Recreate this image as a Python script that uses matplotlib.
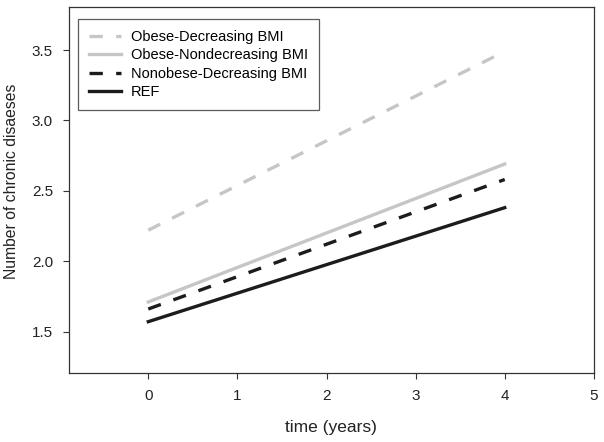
import matplotlib
matplotlib.use('Agg')
import matplotlib.pyplot as plt

plt.rcParams['font.family'] = ['Liberation Sans', 'DejaVu Sans']

# predicted number of chronic diseases at start and end of follow-up
time = [0, 4]
obese_decreasing = [2.22, 3.49]
obese_nondecreasing = [1.71, 2.69]
nonobese_decreasing = [1.66, 2.58]
ref = [1.57, 2.38]

labels = ['Obese-Decreasing BMI', 'Obese-Nondecreasing BMI',
          'Nonobese-Decreasing BMI', 'REF']
xticks = [0, 1, 2, 3, 4, 5]
yticks = [1.5, 2.0, 2.5, 3.0, 3.5]

grey = '#c6c6c6'
black = '#1c1c1c'

fig = plt.figure(figsize=(6.04, 4.42), dpi=100)
ax = fig.add_axes([0.1142, 0.156, 0.869, 0.828])

ax.plot(time, obese_decreasing, color=grey, lw=2.4, ls=(0, (4, 4)),
        dash_capstyle='butt', label=labels[0])
ax.plot(time, obese_nondecreasing, color=grey, lw=2.4, label=labels[1])
ax.plot(time, nonobese_decreasing, color=black, lw=2.4, ls=(0, (4, 4)),
        dash_capstyle='butt', label=labels[2])
ax.plot(time, ref, color=black, lw=2.4, label=labels[3])

ax.set_xlim(-0.89, 5)
ax.set_ylim(1.205, 3.805)
ax.set_xticks(xticks)
ax.set_xticklabels([str(t) for t in xticks])
ax.set_yticks(yticks)
ax.set_yticklabels([f'{t:.1f}' for t in yticks])

for s in ax.spines.values():
    s.set_color('#333333')
    s.set_linewidth(0.9)
ax.tick_params(direction='out', length=4.5, width=0.8, color='#333333',
               labelsize=11, pad=7, labelcolor='#222222')

ax.set_xlabel('time (years)', fontsize=12.5, labelpad=12, color='#222222')
ax.set_ylabel('Number of chronic disaeses', fontsize=11.3, color='#222222')
ax.yaxis.set_label_coords(-0.095, 0.523)

leg = ax.legend(loc='upper left', bbox_to_anchor=(0.017, 0.967), fontsize=10.5,
                frameon=True, fancybox=False, handlelength=2.2,
                handletextpad=0.7, labelspacing=0.3, borderpad=0.75,
                borderaxespad=0)
leg.get_frame().set_edgecolor('#333333')
leg.get_frame().set_linewidth(0.9)

fig.savefig('out.png', dpi=100)
